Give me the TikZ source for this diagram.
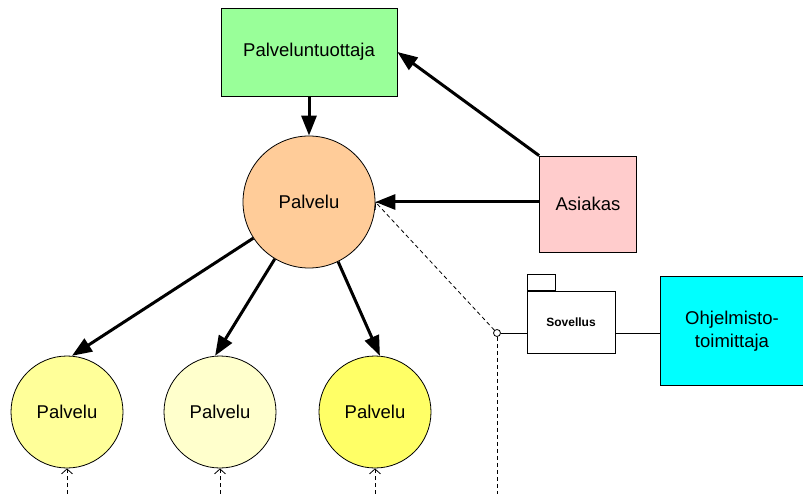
\documentclass[tikz,border=0pt]{standalone}
\usepackage{fontspec}
\setmainfont{Liberation Sans}
\usetikzlibrary{positioning,arrows.meta}

\definecolor{vihrea}{HTML}{99FF99}
\definecolor{oranssi}{HTML}{FFCC99}
\definecolor{roosa}{HTML}{FFCCCC}
\definecolor{kelta1}{HTML}{FFFF99}
\definecolor{kelta2}{HTML}{FFFFCC}
\definecolor{kelta3}{HTML}{FFFF66}
\definecolor{syaani}{HTML}{00FFFF}

\begin{document}
\begin{tikzpicture}[x=1pt,y=-1pt,
  laatikko/.style={draw,line width=0.8pt,font=\fontsize{18.5}{23}\selectfont,align=center,inner sep=0pt},
  pallo/.style={draw,circle,line width=0.8pt,font=\fontsize{18.5}{23}\selectfont,inner sep=0pt},
  nuoli/.style={-{Triangle[length=20pt,width=15pt]},line width=3pt},
  riippuu/.style={-{Straight Barb[length=5pt,width=11pt]},dashed,dash pattern=on 4pt off 3pt,line width=0.8pt},
  viiva/.style={line width=0.8pt}]
  \useasboundingbox (0,0) rectangle (803,494);

  \node[laatikko,fill=vihrea,minimum width=176pt,minimum height=88pt] (tuottaja) at (309,52) {Palveluntuottaja};
  \node[pallo,fill=oranssi,minimum size=132pt] (palvelu) at (309,202) {Palvelu};
  \node[laatikko,fill=roosa,minimum width=97pt,minimum height=96pt] (asiakas) at (588,204) {Asiakas};

  \node[pallo,fill=kelta1,minimum size=112pt] (p1) at (67,412) {Palvelu};
  \node[pallo,fill=kelta2,minimum size=112pt] (p2) at (220,412) {Palvelu};
  \node[pallo,fill=kelta3,minimum size=112pt] (p3) at (375,412) {Palvelu};

  \node[draw,viiva,fill=white,minimum width=88pt,minimum height=62pt,inner sep=0pt,
        font=\bfseries\fontsize{12}{14}\selectfont] (sovellus) at (571,322) {Sovellus};
  \node[draw,viiva,minimum width=28pt,minimum height=16pt,inner sep=0pt,anchor=south west] (valilehti) at (sovellus.north west) {};
  \node[laatikko,fill=syaani,minimum width=144pt,minimum height=109pt] (ohjelmisto) at (732,331) {Ohjelmisto-\\toimittaja};

  \node[draw,circle,viiva,fill=white,inner sep=0pt,minimum size=7pt] (liitos) at (497,333) {};

  \coordinate (q1) at (67,494);
  \coordinate (q2) at (220,494);
  \coordinate (q3) at (375,494);
  \coordinate (alas) at (497,494);

  \draw[nuoli] (tuottaja.south) -- (palvelu.north);
  \draw[nuoli] (asiakas.north west) -- (tuottaja.east);
  \draw[nuoli] (palvelu.east -| asiakas.west) -- (palvelu.east);
  \draw[nuoli] (palvelu.213) -- (p1.85);
  \draw[nuoli] (palvelu.239) -- (p2.95);
  \draw[nuoli] (palvelu.296) -- (p3.85);

  \draw[riippuu] (q1) -- (p1.south);
  \draw[riippuu] (q2) -- (p2.south);
  \draw[riippuu] (q3) -- (p3.south);
  \draw[riippuu] (liitos) -- (palvelu.east);
  \draw[viiva,dashed,dash pattern=on 4pt off 3pt] (liitos) -- (alas);

  \draw[viiva] (liitos) -- (liitos -| sovellus.west);
  \draw[viiva] (liitos -| sovellus.east) -- (liitos -| ohjelmisto.west);
\end{tikzpicture}
\end{document}
